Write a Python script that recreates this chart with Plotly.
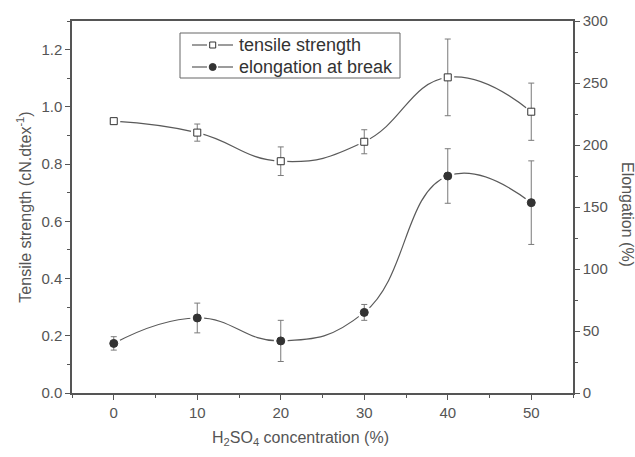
import plotly.graph_objects as go

# ---- data ----
conc = [0, 10, 20, 30, 40, 50]
tensile = [0.95, 0.91, 0.81, 0.878, 1.103, 0.983]
tensile_err = [0.0, 0.03, 0.05, 0.042, 0.134, 0.10]
elong = [40, 60.5, 42, 65, 175, 153.5]
elong_err = [5.4, 12, 16.6, 6.4, 22, 33.7]

x_ticks = [0, 10, 20, 30, 40, 50]
left_ticks = [0.0, 0.2, 0.4, 0.6, 0.8, 1.0, 1.2]
right_ticks = [0, 50, 100, 150, 200, 250, 300]
series_names = ["tensile strength", "elongation at break"]

LINE = "#5a5a5a"
MARK = "#333333"
AX = "#555555"
TXT = "#555555"
FONT = "Liberation Sans, Arial, sans-serif"

# plot-area geometry in pixels (for layout-only helpers)
W, H = 635, 457
ML, MR, MT, MB = 72, 62, 21, 64
PW, PH = W - ML - MR, H - MT - MB


def px(xp):
    return (xp - ML) / PW


def py(yp):
    return (H - MB - yp) / PH


fig = go.Figure()


def add_series(x, y, err, yaxis, symbol, fill, size):
    fig.add_trace(go.Scatter(x=x, y=y, mode="lines", yaxis=yaxis,
                             line=dict(color=LINE, width=1.2, shape="spline", smoothing=1.3),
                             showlegend=False, hoverinfo="skip"))
    fig.add_trace(go.Scatter(x=x, y=y, mode="markers", yaxis=yaxis,
                             marker=dict(symbol="circle", size=size + 6, color="white"),
                             showlegend=False, hoverinfo="skip"))
    fig.add_trace(go.Scatter(x=x, y=y, mode="markers", yaxis=yaxis,
                             marker=dict(symbol=symbol, size=size, color=fill,
                                         line=dict(color=MARK, width=1)),
                             error_y=dict(type="data", array=err, visible=True,
                                          color="#7a7a7a", thickness=1, width=3),
                             showlegend=False))


add_series(conc, tensile, tensile_err, "y", "square", "white", 7)
add_series(conc, elong, elong_err, "y2", "circle", MARK, 8)

# ---- hand-made legend (box, glyphs, labels) ----
shapes = [dict(type="rect", xref="paper", yref="paper",
               x0=px(180), x1=px(400), y0=py(78), y1=py(33),
               line=dict(color="#666666", width=1), fillcolor="white", layer="above")]
annotations = []
rows = [45, 67]
for i, (row, name) in enumerate(zip(rows, series_names)):
    for a, b in [(192, 207), (218, 233)]:
        shapes.append(dict(type="line", xref="paper", yref="paper",
                           x0=px(a), x1=px(b), y0=py(row), y1=py(row),
                           line=dict(color=LINE, width=1.2), layer="above"))
    if i == 0:
        shapes.append(dict(type="rect", xref="paper", yref="paper",
                           x0=px(209.7), x1=px(215.7), y0=py(row + 3), y1=py(row - 3),
                           line=dict(color=MARK, width=1), fillcolor="white", layer="above"))
    else:
        shapes.append(dict(type="circle", xref="paper", yref="paper",
                           x0=px(209.2), x1=px(216.2), y0=py(row + 3.5), y1=py(row - 3.5),
                           line=dict(color=MARK, width=1), fillcolor=MARK, layer="above"))
    annotations.append(dict(text=name, xref="paper", yref="paper",
                            x=px(237), y=py(row), xanchor="left", yanchor="middle",
                            showarrow=False,
                            font=dict(family=FONT, size=18, color="#333333")))

annotations.append(dict(text="Elongation (%)", xref="paper", yref="paper",
                        x=px(628), y=py(214), xanchor="center", yanchor="middle",
                        textangle=90, showarrow=False,
                        font=dict(family=FONT, size=16, color=TXT)))
annotations.append(dict(text="H<sub>2</sub>SO<sub>4</sub> concentration (%)",
                        xref="paper", yref="paper", x=px(300), y=py(438),
                        xanchor="center", yanchor="middle", showarrow=False,
                        font=dict(family=FONT, size=16, color=TXT)))

axis_common = dict(showline=True, linecolor=AX, linewidth=1.5, ticks="outside",
                   ticklen=5, tickwidth=1.2, tickcolor=AX, showgrid=False, zeroline=False,
                   tickfont=dict(family=FONT, size=15, color=TXT))

fig.update_layout(
    width=W, height=H,
    margin=dict(l=ML, r=MR, t=MT, b=MB),
    paper_bgcolor="white", plot_bgcolor="white",
    font=dict(family=FONT, size=16, color=TXT),
    showlegend=False,
    xaxis=dict(range=[-5, 55], tickvals=x_ticks, mirror=True,
               minor=dict(dtick=5, ticks="outside", ticklen=3, tickcolor=AX),
               **axis_common),
    yaxis=dict(range=[0, 1.3], tickvals=left_ticks, tickformat=".1f",
               minor=dict(dtick=0.1, ticks="outside", ticklen=3, tickcolor=AX),
               title=dict(text="Tensile strength (cN.dtex<sup>-1</sup>)",
                          font=dict(family=FONT, size=16, color=TXT), standoff=6),
               **axis_common),
    yaxis2=dict(range=[0, 300], tickvals=right_ticks, overlaying="y", side="right",
                minor=dict(dtick=25, ticks="outside", ticklen=3, tickcolor=AX),
                **axis_common),
    shapes=shapes,
    annotations=annotations,
)

fig.write_html("out.html")
